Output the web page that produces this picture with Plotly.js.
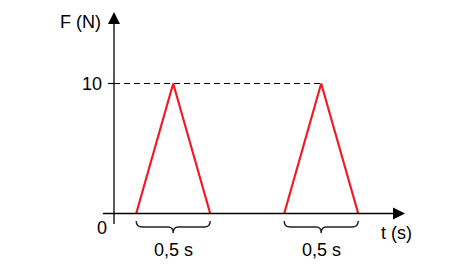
<!DOCTYPE html>
<html>
<head>
<meta charset="utf-8">
<script src="https://cdn.plot.ly/plotly-3.0.1.min.js"></script>
<style>html,body{margin:0;padding:0;background:#fff;}#chart{width:452px;height:270px;}</style>
</head>
<body>
<div id="chart"></div>
<script>
// ---- data ----
const pulse1T = [0.15, 0.40, 0.65];
const pulse1F = [0, 10, 0];
const pulse2T = [1.15, 1.40, 1.65];
const pulse2F = [0, 10, 0];
const peakForce = 10;
const yTickVals = [10];
const yTickText = ['10'];
const originLabel = '0';
const yAxisLabel = 'F (N)';
const xAxisLabel = 't (s)';
const braceLabels = ['0,5 s', '0,5 s'];

// ---- layout helpers (pixel scale) ----
const W = 452, H = 270;
const ox = 114, oy = 213.5;     // origin pixel
const sx = 148, sy = 13;        // pixels per unit
const xr = [-ox / sx, (W - ox) / sx];
const yr = [(oy - H) / sy, oy / sy];
const X = px => (px - ox) / sx;
const Y = py => (oy - py) / sy;
const dX = d => d / sx;
const dY = d => d / sy;

const font = {family: 'Liberation Sans, Arial, sans-serif', size: 18, color: '#000'};
const red = '#ee1c25';

const traces = [
  {x: [0, pulse2T[1]], y: [peakForce, peakForce], mode: 'lines',
   line: {color: '#000', width: 1.1, dash: '6px,4px'}, hoverinfo: 'skip'},
  {x: pulse1T, y: pulse1F, mode: 'lines', line: {color: red, width: 2.2}, hoverinfo: 'skip'},
  {x: pulse2T, y: pulse2F, mode: 'lines', line: {color: red, width: 2.2}, hoverinfo: 'skip'}
];

const shapes = [];
// x axis line + arrow
const xTip = X(405);
shapes.push({type: 'line', x0: X(103), x1: xTip - dX(10), y0: 0, y1: 0, line: {color: '#000', width: 1.3}});
shapes.push({type: 'path', path: `M ${xTip} 0 L ${xTip - dX(12)} ${dY(6)} L ${xTip - dX(12)} ${-dY(6)} Z`,
  fillcolor: '#000', line: {width: 0}});
// y axis line + arrow
const yTip = Y(12);
shapes.push({type: 'line', x0: 0, x1: 0, y0: Y(224), y1: yTip - dY(10), line: {color: '#000', width: 1.3}});
shapes.push({type: 'path', path: `M 0 ${yTip} L ${dX(6)} ${yTip - dY(12)} L ${-dX(6)} ${yTip - dY(12)} Z`,
  fillcolor: '#000', line: {width: 0}});
// y ticks
yTickVals.forEach(v => shapes.push({type: 'line', x0: -dX(6), x1: 0, y0: v, y1: v, line: {color: '#000', width: 1.2}}));

// braces
function brace(t0, t1) {
  const p0 = ox + t0 * sx, p1 = ox + t1 * sx, pm = (p0 + p1) / 2;
  const top = 221, mid = 227, tip = 233;
  const pts = [
    ['M', p0, top], ['Q', p0, mid, p0 + 6, mid], ['L', pm - 5, mid], ['Q', pm, mid, pm, tip],
    ['Q', pm, mid, pm + 5, mid], ['L', p1 - 6, mid], ['Q', p1, mid, p1, top]
  ];
  return pts.map(a => {
    let s = a[0];
    for (let i = 1; i < a.length; i += 2) s += ' ' + X(a[i]) + ',' + Y(a[i + 1]);
    return s;
  }).join(' ');
}
const pulses = [pulse1T, pulse2T];
pulses.forEach(p => shapes.push({type: 'path', path: brace(p[0], p[p.length - 1]),
  line: {color: '#222', width: 1.4}}));

const annotations = [];
annotations.push({x: X(103), y: Y(22), text: yAxisLabel, xanchor: 'right', yanchor: 'middle', showarrow: false, font});
yTickVals.forEach((v, i) => annotations.push({x: X(104), y: v, text: yTickText[i], xanchor: 'right', yanchor: 'middle', showarrow: false, font}));
annotations.push({x: X(102), y: Y(228), text: originLabel, xanchor: 'center', yanchor: 'middle', showarrow: false, font});
annotations.push({x: X(396), y: Y(233), text: xAxisLabel, xanchor: 'center', yanchor: 'middle', showarrow: false, font});
pulses.forEach((p, i) => annotations.push({x: (p[0] + p[p.length - 1]) / 2, y: Y(250), text: braceLabels[i],
  xanchor: 'center', yanchor: 'middle', showarrow: false, font}));

const layout = {
  width: W, height: H,
  margin: {l: 0, r: 0, t: 0, b: 0},
  paper_bgcolor: '#fff', plot_bgcolor: '#fff',
  showlegend: false,
  xaxis: {range: xr, visible: false, fixedrange: true},
  yaxis: {range: yr, visible: false, fixedrange: true},
  shapes, annotations
};

Plotly.newPlot('chart', traces, layout, {staticPlot: true, displayModeBar: false});
</script>
</body>
</html>
